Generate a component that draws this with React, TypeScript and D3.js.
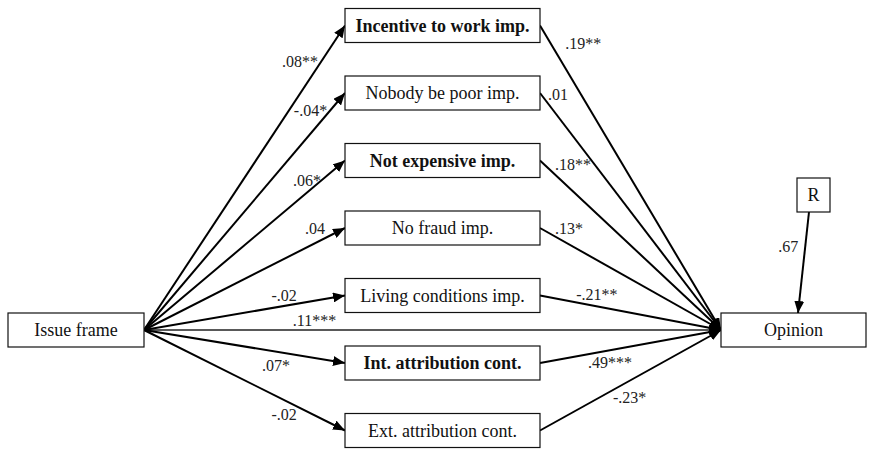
import React from 'react'
import * as d3 from 'd3'

// mediators between the frame and the opinion
const mediators = [
  'Incentive to work imp.',
  'Nobody be poor imp.',
  'Not expensive imp.',
  'No fraud imp.',
  'Living conditions imp.',
  'Int. attribution cont.',
  'Ext. attribution cont.'
]
const boldMediators = [true, false, true, false, false, true, false]
// frame -> mediator coefficients
const aPaths = ['.08**', '-.04*', '.06*', '.04', '-.02', '.07*', '-.02']
// mediator -> opinion coefficients
const bPaths = ['.19**', '.01', '.18**', '.13*', '-.21**', '.49***', '-.23*']
const directPath = '.11***'
const residualPath = '.67'
const sourceName = 'Issue frame'
const outcomeName = 'Opinion'
const residualName = 'R'

// label placement along each edge: t = fraction along the line
const aLabelLayout = [
  { t: 0.88, dx: -3, dy: 5, anchor: 'end' },
  { t: 0.926, dx: -3, dy: 5, anchor: 'end' },
  { t: 0.88, dx: 0, dy: 5, anchor: 'end' },
  { t: 0.9, dx: 0, dy: -4, anchor: 'end' },
  { t: 0.76, dx: 0, dy: -3, anchor: 'end' },
  { t: 0.726, dx: 0, dy: 17, anchor: 'end' },
  { t: 0.76, dx: 0, dy: 14, anchor: 'end' }
]
const bLabelLayout = [
  { t: 0.057, dx: 15, dy: 6, anchor: 'start' },
  { t: 0, dx: 8, dy: 6.5, anchor: 'start' },
  { t: 0, dx: 15, dy: 9, anchor: 'start' },
  { t: 0, dx: 15, dy: 5.5, anchor: 'start' },
  { t: 0.2, dx: 0, dy: -2, anchor: 'start' },
  { t: 0.265, dx: 0, dy: 14, anchor: 'start' },
  { t: 0.403, dx: 0, dy: 13, anchor: 'start' }
]

const width = 871
const height = 449
const font = "'Liberation Serif'"

const App: React.FC = () => {
  const y = d3.scalePoint<string>().domain(mediators).range([25.5, 430.5])
  const boxH = 34
  const mid = { x0: 345, x1: 540 }
  const src = { x0: 8, x1: 144, y: 330 }
  const out = { x0: 721, x1: 866, y: 330 }
  const res = { x0: 797, x1: 830, y0: 178, y1: 212 }

  const along = (a: number[], b: number[], t: number) => [a[0] + (b[0] - a[0]) * t, a[1] + (b[1] - a[1]) * t]
  const line = d3.line()

  const resStart = [809, res.y1]
  const resEnd = [798, out.y - boxH / 2]
  const resLabel = along(resStart, resEnd, 0.347)

  const txt = { fontFamily: font }

  return (
    <div style={{ position: 'absolute', left: 0, top: 0 }}>
      <svg width={width} height={height} style={{ background: '#fff', display: 'block' }}>
        <defs>
          <marker
            id="arrow"
            viewBox="0 0 12 10"
            refX={12}
            refY={5}
            markerWidth={12}
            markerHeight={10}
            markerUnits="userSpaceOnUse"
            orient="auto"
          >
            <path d="M0,0L12,5L0,10Z" fill="#000" />
          </marker>
        </defs>

        {/* direct effect */}
        <path
          d={line([[src.x1, src.y], [out.x0, out.y]]) ?? ''}
          stroke="#222"
          strokeWidth={1.6}
          fill="none"
          markerEnd="url(#arrow)"
        />
        {(() => {
          const p = along([src.x1, src.y], [out.x0, out.y], 0.258)
          return (
            <text x={p[0]} y={p[1] - 4} fontSize={16} fill="#222" style={txt}>
              {directPath}
            </text>
          )
        })()}

        {mediators.map((m, i) => {
          const yc = y(m) as number
          const a0 = [src.x1, src.y]
          const a1 = [mid.x0, yc]
          const b0 = [mid.x1, yc]
          const b1 = [out.x0, out.y]
          const la = aLabelLayout[i]
          const lb = bLabelLayout[i]
          const pa = along(a0, a1, la.t)
          const pb = along(b0, b1, lb.t)
          return (
            <g key={m}>
              <path d={line([a0, a1]) ?? ''} stroke="#000" strokeWidth={2} fill="none" markerEnd="url(#arrow)" />
              <path d={line([b0, b1]) ?? ''} stroke="#000" strokeWidth={2} fill="none" markerEnd="url(#arrow)" />
              <rect
                x={mid.x0}
                y={yc - boxH / 2}
                width={mid.x1 - mid.x0}
                height={boxH}
                fill="#fff"
                stroke="#111"
                strokeWidth={1.2}
              />
              <text
                x={(mid.x0 + mid.x1) / 2}
                y={yc + 6}
                textAnchor="middle"
                fontSize={18}
                fontWeight={boldMediators[i] ? 'bold' : 'normal'}
                fill="#111"
                style={txt}
              >
                {m}
              </text>
              <text x={pa[0] + la.dx} y={pa[1] + la.dy} textAnchor={la.anchor} fontSize={16} fill="#222" style={txt}>
                {aPaths[i]}
              </text>
              <text x={pb[0] + lb.dx} y={pb[1] + lb.dy} textAnchor={lb.anchor} fontSize={16} fill="#222" style={txt}>
                {bPaths[i]}
              </text>
            </g>
          )
        })}

        {/* source */}
        <rect x={src.x0} y={src.y - boxH / 2} width={src.x1 - src.x0} height={boxH} fill="#fff" stroke="#111" strokeWidth={1.2} />
        <text x={(src.x0 + src.x1) / 2} y={src.y + 6} textAnchor="middle" fontSize={18} fill="#111" style={txt}>
          {sourceName}
        </text>

        {/* outcome */}
        <rect x={out.x0} y={out.y - boxH / 2} width={out.x1 - out.x0} height={boxH} fill="#fff" stroke="#111" strokeWidth={1.2} />
        <text x={(out.x0 + out.x1) / 2} y={out.y + 6} textAnchor="middle" fontSize={18} fill="#111" style={txt}>
          {outcomeName}
        </text>

        {/* residual */}
        <path d={line([resStart, resEnd]) ?? ''} stroke="#000" strokeWidth={2} fill="none" markerEnd="url(#arrow)" />
        <rect x={res.x0} y={res.y0} width={res.x1 - res.x0} height={res.y1 - res.y0} fill="#fff" stroke="#111" strokeWidth={1.2} />
        <text x={(res.x0 + res.x1) / 2} y={(res.y0 + res.y1) / 2 + 6} textAnchor="middle" fontSize={18} fill="#111" style={txt}>
          {residualName}
        </text>
        <text x={resLabel[0] - 7} y={resLabel[1] + 5} textAnchor="end" fontSize={16} fill="#222" style={txt}>
          {residualPath}
        </text>
      </svg>
    </div>
  )
}

export default App
